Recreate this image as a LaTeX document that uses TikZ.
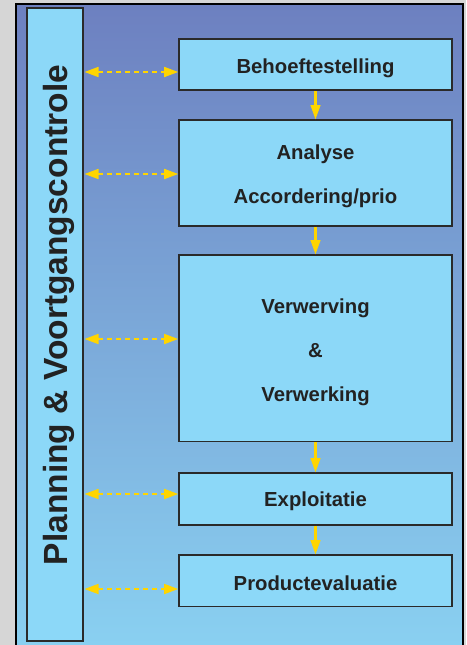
\documentclass[tikz,border=0pt]{standalone}
\usepackage{fontspec}
\setmainfont{Liberation Sans}
\usetikzlibrary{arrows.meta,calc}
\definecolor{graybg}{HTML}{D6D6D6}
\definecolor{topbl}{HTML}{6D80C0}
\definecolor{botbl}{HTML}{8AD2F2}
\definecolor{boxfill}{HTML}{8CD8F8}
\definecolor{boxline}{HTML}{2A2A2A}
\definecolor{arry}{HTML}{FFD500}
\definecolor{txt}{HTML}{222222}
\begin{document}
\begin{tikzpicture}[x=1pt,y=-1pt,
  stagebox/.style={draw=boxline,line width=1.6pt,fill=boxfill,minimum width=273pt,inner sep=0pt},
  stagetxt/.style={text=txt,align=center,inner sep=0pt,font=\bfseries\fontsize{20.3}{44}\selectfont},
  flow/.style={draw=arry,line width=3.5pt,-{Triangle[length=15pt,width=9pt]},shorten >=-1pt},
  link/.style={draw=arry,line width=1.7pt,dash pattern=on 5pt off 4pt,
    {Triangle[length=14pt,width=10pt]}-{Triangle[length=14pt,width=10pt]}}]
\useasboundingbox (0,0) rectangle (466,645);
\fill[graybg] (0,0) rectangle (466,645);
\shade[top color=topbl,bottom color=botbl] (16,4) rectangle (463,660);
\draw[black,line width=2pt] (16,660) -- (16,4) -- (463,4) -- (463,660);
\node[draw=boxline,line width=1.6pt,fill=boxfill,minimum width=56pt,minimum height=633pt,inner sep=0pt] (plan) at (55,324.5) {};
\node[rotate=90,text=txt,inner sep=0pt,font=\bfseries\fontsize{33.5}{40}\selectfont] (plantxt) at (58.5,315) {Planning \& Voortgangscontrole};
\node[stagebox,minimum height=51pt] (b1) at (315.5,64.75) {};
\node[stagebox,minimum height=106pt] (b2) at (315.5,173) {};
\node[stagebox,minimum height=186.5pt] (b3) at (315.5,348.25) {};
\node[stagebox,minimum height=52pt] (b4) at (315.5,499) {};
\node[stagebox,minimum height=51.5pt] (b5) at (315.5,580.75) {};
\node[stagetxt] (t1) at (315.5,68) {Behoeftestelling};
\node[stagetxt] (t2) at (315.5,176) {Analyse\\Accordering/prio};
\node[stagetxt] (t3) at (315.5,352) {Verwerving\\\&\\Verwerking};
\node[stagetxt] (t4) at (315.5,501) {Exploitatie};
\node[stagetxt] (t5) at (315.5,583) {Productevaluatie};
\foreach \a/\b in {b1/b2,b2/b3,b3/b4,b4/b5}
  \draw[flow] (\a.south) -- (\b.north);
\foreach \b/\yy in {b1/72,b2/174,b3/339,b4/494,b5/589}{
  \coordinate (l\b) at (84.5,\yy);
  \draw[link] (l\b) -- (\b.west |- l\b);
}
\end{tikzpicture}
\end{document}
